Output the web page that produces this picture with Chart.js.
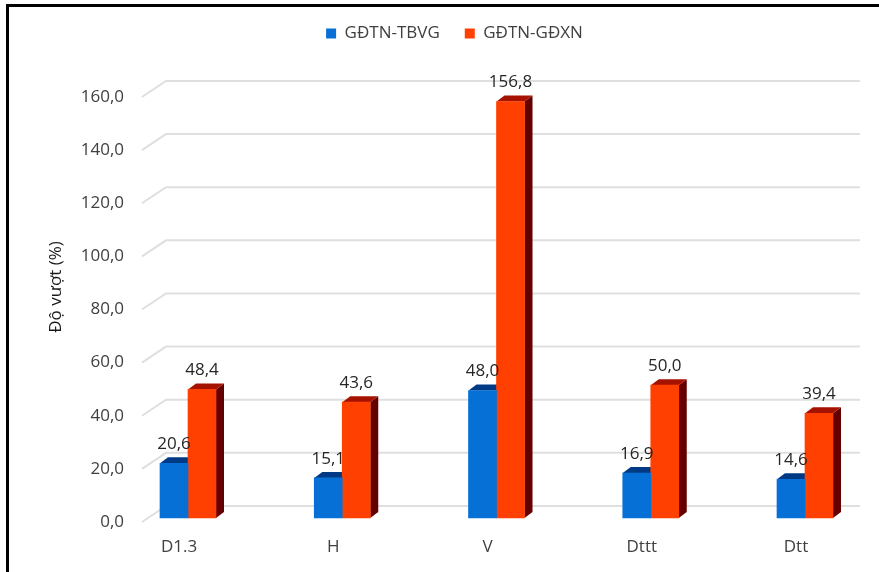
<!DOCTYPE html>
<html>
<head>
<meta charset="utf-8">
<script src="https://cdn.jsdelivr.net/npm/chart.js@4.4.1/dist/chart.umd.min.js"></script>
<style>
  html, body { margin: 0; padding: 0; background: #fff; }
  #wrap { width: 879px; height: 572px; }
</style>
</head>
<body>
<div id="wrap"><canvas id="c" width="879" height="572"></canvas></div>
<script>
// Categories and the two measured series (values in %)
const categories = ['D1.3', 'H', 'V', 'Dttt', 'Dtt'];
const seriesNames = ['GĐTN-TBVG', 'GĐTN-GĐXN'];
const tbvgValues = [20.6, 15.1, 48.0, 16.9, 14.6];
const gdxnValues = [48.4, 43.6, 156.8, 50.0, 39.4];
const axisTitle = 'Độ vượt (%)';

const fmt = v => Number(v).toFixed(1).replace('.', ',');

const FONT = "'Open Sans', sans-serif";
const TEXT = '#404040';

// Pseudo-3D depth of the columns and of the back wall
const DEPTH_X = 8, DEPTH_Y = 6;
const WALL_X = 24, WALL_Y = 16;
const faceColors = [
  { top: '#003a84', side: '#00285c' },
  { top: '#a51300', side: '#650000' }
];

function poly(ctx, pts, color) {
  ctx.fillStyle = color;
  ctx.beginPath();
  ctx.moveTo(pts[0][0], pts[0][1]);
  for (let i = 1; i < pts.length; i++) ctx.lineTo(pts[i][0], pts[i][1]);
  ctx.closePath();
  ctx.fill();
}

const depthPlugin = {
  id: 'depth',
  beforeDatasetsDraw(chart) {
    const { ctx, chartArea: a, scales: { y } } = chart;
    ctx.save();
    // back-wall gridlines with a slanted floor edge
    ctx.strokeStyle = '#dfdfdf';
    ctx.lineWidth = 2;
    y.ticks.forEach(t => {
      const py = y.getPixelForValue(t.value);
      ctx.beginPath();
      ctx.moveTo(a.left - 46, py);
      ctx.lineTo(a.left - 46 + WALL_X, py - WALL_Y);
      ctx.lineTo(a.right + 55, py - WALL_Y);
      ctx.stroke();
    });
    // top and side faces of each column
    chart.data.datasets.forEach((ds, i) => {
      chart.getDatasetMeta(i).data.forEach(bar => {
        const p = bar.getProps(['x', 'y', 'base', 'width'], true);
        const x0 = p.x - p.width / 2, x1 = p.x + p.width / 2;
        poly(ctx, [[x1, p.y], [x1 + DEPTH_X, p.y - DEPTH_Y], [x1 + DEPTH_X, p.base - DEPTH_Y], [x1, p.base]], faceColors[i].side);
        poly(ctx, [[x0, p.y], [x1, p.y], [x1 + DEPTH_X, p.y - DEPTH_Y], [x0 + DEPTH_X, p.y - DEPTH_Y]], faceColors[i].top);
      });
    });
    ctx.restore();
  },
  afterDatasetsDraw(chart) {
    // value labels above each column
    const ctx = chart.ctx;
    ctx.save();
    ctx.font = '17px ' + FONT;
    ctx.fillStyle = '#262626';
    ctx.textAlign = 'center';
    ctx.textBaseline = 'middle';
    chart.data.datasets.forEach((ds, i) => {
      chart.getDatasetMeta(i).data.forEach((bar, j) => {
        const p = bar.getProps(['x', 'y'], true);
        ctx.fillText(fmt(ds.data[j]), p.x, p.y - 19);
      });
    });
    ctx.restore();
  },
  afterDraw(chart) {
    // frame on the top and left edges
    const ctx = chart.ctx;
    ctx.save();
    ctx.fillStyle = '#000';
    ctx.fillRect(6, 4, 3, chart.height - 4);
    ctx.fillRect(6, 4, chart.width - 6, 3);
    ctx.restore();
  }
};

Chart.defaults.font.family = FONT;
Chart.defaults.font.size = 17;
Chart.defaults.color = TEXT;

new Chart(document.getElementById('c'), {
  type: 'bar',
  data: {
    labels: categories,
    datasets: [
      { label: seriesNames[0], data: tbvgValues, backgroundColor: '#0670d6',
        xAxisID: 'x', yAxisID: 'yBars', barThickness: 28, clip: false },
      { label: seriesNames[1], data: gdxnValues, backgroundColor: '#ff4000',
        xAxisID: 'x', yAxisID: 'yBars', barThickness: 28, clip: false }
    ]
  },
  options: {
    responsive: false,
    animation: false,
    devicePixelRatio: 1,
    layout: { padding: { top: 0, left: 42, right: 12, bottom: 0 } },
    plugins: {
      legend: {
        position: 'top',
        labels: { boxWidth: 10, boxHeight: 10, padding: 25, color: TEXT, font: { size: 17 } }
      },
      tooltip: { enabled: false }
    },
    scales: {
      x: {
        type: 'category',
        position: 'bottom',
        offset: false,
        grid: { display: false, drawTicks: false },
        border: { display: false },
        ticks: { padding: 15, labelOffset: -9, color: TEXT },
        afterFit: s => { s.height = 50; }
      },
      y: {
        type: 'linear',
        position: 'left',
        min: 0,
        max: 176.94,
        grid: { display: false, drawTicks: false },
        border: { display: false },
        ticks: { stepSize: 20, includeBounds: false, padding: 64, color: TEXT, callback: v => fmt(v) },
        title: { display: true, text: axisTitle, color: '#1a1a1a', font: { size: 17 } },
        afterFit: s => { s.width = 146; s.paddingTop = 0; s.paddingBottom = 0; }
      },
      yBars: {
        type: 'linear',
        position: 'right',
        min: -1.5,
        max: 175.44,
        grid: { display: false, drawTicks: false },
        border: { display: false },
        ticks: { display: false },
        afterFit: s => { s.width = 62; s.paddingTop = 0; s.paddingBottom = 0; }
      }
    }
  },
  plugins: [depthPlugin]
});
</script>
</body>
</html>
